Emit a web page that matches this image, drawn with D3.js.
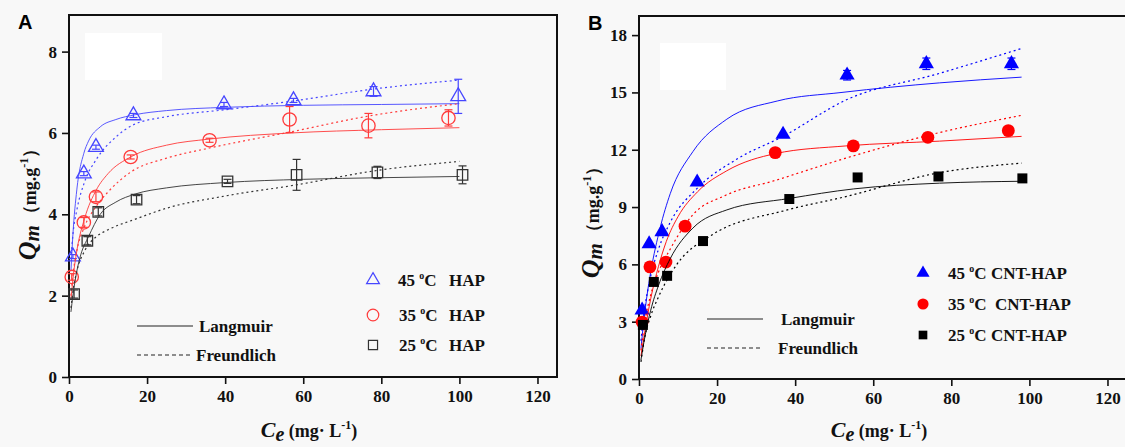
<!DOCTYPE html>
<html>
<head>
<meta charset="utf-8">
<script src="https://cdn.jsdelivr.net/npm/d3@7"></script>
<style>
  body { margin: 0; background: #f8f8f8; }
  svg { display: block; }
  .tick text { font-family: "Liberation Serif", serif; font-weight: bold; font-size: 17px; fill: #111; }
</style>
</head>
<body>
<svg id="chart" width="1125" height="447"></svg>
<script>
// ---- data ----
const xTicks = [0, 20, 40, 60, 80, 100, 120];
const yTicksA = [0, 2, 4, 6, 8];
const yTicksB = [0, 3, 6, 9, 12, 15, 18];

// panel A: HAP
const hap45 = [[1, 2.96], [3.8, 5.0], [6.9, 5.65], [16.5, 6.43], [39.7, 6.7], [57.5, 6.8], [78, 7.02], [99.7, 6.9]];
const hap45Err = [0.05, 0.05, 0.05, 0.05, 0.05, 0.05, 0.12, 0.42];
const hap35 = [[0.7, 2.46], [3.8, 3.8], [6.9, 4.43], [15.8, 5.41], [36, 5.82], [56.5, 6.33], [76.7, 6.18], [97.2, 6.37]];
const hap35Err = [0.08, 0.12, 0.12, 0.05, 0.05, 0.32, 0.3, 0.2];
const hap25 = [[1.3, 2.04], [4.7, 3.35], [7.5, 4.06], [17.3, 4.36], [40.6, 4.81], [58.3, 4.97], [79, 5.03], [100.8, 4.97]];
const hap25Err = [0.1, 0.1, 0.1, 0.1, 0.05, 0.38, 0.15, 0.22];

const langA45 = [[0.5, 2.6], [1, 3.5], [2, 4.6], [3.8, 5.5], [5, 5.8], [8, 6.15], [12, 6.33], [17, 6.45], [25, 6.55], [40, 6.63], [60, 6.68], [80, 6.7], [100, 6.72]];
const freuA45 = [[0.5, 2.9], [1, 3.5], [2, 4.1], [4, 4.8], [7, 5.35], [12, 5.9], [16.5, 6.2], [25, 6.4], [40, 6.57], [57, 6.78], [78, 7.08], [100, 7.3]];
const langA35 = [[0.5, 1.9], [1, 2.4], [2, 3.1], [4, 3.9], [7, 4.6], [10, 5.0], [16, 5.42], [25, 5.7], [36, 5.85], [57, 6.0], [80, 6.08], [100, 6.13]];
const freuA35 = [[0.5, 2.0], [1, 2.5], [2, 3.1], [4, 3.7], [7, 4.2], [10, 4.55], [16, 5.05], [25, 5.38], [36, 5.63], [57, 6.03], [77, 6.42], [100, 6.72]];
const langA25 = [[0.5, 1.6], [1, 2.0], [2, 2.6], [3, 3.0], [5, 3.45], [8, 4.0], [12, 4.3], [17, 4.5], [25, 4.65], [40, 4.78], [60, 4.86], [80, 4.9], [100, 4.93]];
const freuA25 = [[0.5, 1.7], [1, 2.1], [2, 2.6], [4, 3.1], [7, 3.45], [10, 3.62], [17, 3.88], [25, 4.15], [40, 4.45], [58, 4.72], [79, 5.08], [100, 5.3]];

// panel B: CNT-HAP
const cnt45 = [[0.8, 3.6], [2.6, 7.07], [5.9, 7.7], [14.9, 10.3], [36.9, 12.8], [53.3, 15.9], [73.6, 16.5], [95.4, 16.5]];
const cnt45Err = [0, 0, 0, 0, 0, 0.25, 0.3, 0.3];
const cnt35 = [[0.8, 2.98], [2.8, 5.87], [6.9, 6.12], [11.8, 8.0], [34.9, 11.85], [54.9, 12.2], [74, 12.65], [94.6, 13.0]];
const cnt25 = [[1, 2.83], [3.8, 5.08], [7.2, 5.4], [16.4, 7.22], [38.5, 9.42], [56, 10.55], [76.7, 10.6], [98.2, 10.5]];

const langB45 = [[0.5, 1.6], [1, 2.6], [2, 4.3], [3, 5.6], [5.4, 7.9], [8, 9.7], [13.8, 11.9], [22.5, 13.6], [35.4, 14.55], [52, 15.0], [77, 15.5], [98, 15.8]];
const freuB45 = [[0.5, 2.0], [1, 3.0], [2.6, 5.0], [5, 6.8], [8, 8.2], [15, 10.0], [25, 11.5], [36.9, 12.7], [53, 14.6], [77, 16.0], [98, 17.3]];
const langB35 = [[0.5, 1.2], [1.5, 2.5], [3, 4.2], [5, 5.9], [7, 7.2], [10, 8.5], [15, 9.8], [22.5, 10.9], [35, 11.8], [53, 12.2], [77, 12.45], [98, 12.7]];
const freuB35 = [[0.5, 1.5], [1.5, 3.0], [3, 4.4], [5, 5.6], [8, 6.8], [13.8, 8.6], [22, 9.6], [35, 10.4], [52, 11.5], [77, 12.9], [98, 13.8]];
const langB25 = [[0.5, 1.0], [1.5, 2.2], [3, 3.6], [5, 4.9], [8, 6.3], [13.8, 7.9], [22.5, 8.85], [38.5, 9.45], [55, 9.95], [77, 10.25], [98, 10.35]];
const freuB25 = [[0.5, 0.9], [1.5, 2.2], [3, 3.3], [5, 4.3], [9.7, 6.0], [18, 7.45], [38, 8.85], [52, 9.5], [77, 10.8], [98, 11.3]];

const svg = d3.select("#chart");
const serif = '"Liberation Serif", "Times New Roman", serif';

function drawPanel(p) {
  const x = d3.scaleLinear().domain([0, 125]).range([p.left, p.left + 488]);
  const y = d3.scaleLinear().domain([0, p.yMax]).range([p.bottom, p.top]);
  const g = svg.append("g");

  // white box in upper left
  g.append("rect").attr("x", p.box[0]).attr("y", p.box[1]).attr("width", p.box[2]).attr("height", p.box[3]).attr("fill", "#fff");

  // axes
  const xa = g.append("g").attr("transform", `translate(0,${p.bottom})`)
    .call(d3.axisBottom(x).tickValues(xTicks).tickSize(7).tickPadding(6));
  const ya = g.append("g").attr("transform", `translate(${p.left},0)`)
    .call(d3.axisLeft(y).tickValues(p.yTicks).tickSize(7).tickPadding(5));
  [xa, ya].forEach(a => {
    a.select(".domain").remove();
    a.selectAll(".tick line").attr("stroke", "#111").attr("stroke-width", 1.6);
  });

  // frame
  g.append("rect").attr("x", p.left).attr("y", p.top).attr("width", x(125) - p.left).attr("height", p.bottom - p.top)
    .attr("fill", "none").attr("stroke", "#111").attr("stroke-width", 2);

  const line = d3.line().x(d => x(d[0])).y(d => y(d[1])).curve(d3.curveMonotoneX);

  p.series.forEach(s => {
    g.append("path").attr("d", line(s.lang)).attr("fill", "none").attr("stroke", s.color).attr("stroke-width", 1).attr("opacity", 0.9);
    g.append("path").attr("d", line(s.freu)).attr("fill", "none").attr("stroke", s.color).attr("stroke-width", 1.2)
      .attr("stroke-dasharray", "2,3");
    // error bars
    if (s.err) {
      s.pts.forEach((d, i) => {
        const e = s.err[i];
        if (!e) return;
        g.append("line").attr("x1", x(d[0])).attr("x2", x(d[0])).attr("y1", y(d[1] - e)).attr("y2", y(d[1] + e))
          .attr("stroke", s.color).attr("stroke-width", 1.2);
        [d[1] - e, d[1] + e].forEach(v => g.append("line").attr("x1", x(d[0]) - 4).attr("x2", x(d[0]) + 4)
          .attr("y1", y(v)).attr("y2", y(v)).attr("stroke", s.color).attr("stroke-width", 1.2));
      });
    }
    g.selectAll(null).data(s.pts).enter().append("path")
      .attr("transform", d => `translate(${x(d[0])},${y(d[1])})`)
      .attr("d", d3.symbol().type(s.shape).size(s.size))
      .attr("fill", s.filled ? s.color : "none")
      .attr("stroke", s.color).attr("stroke-width", s.filled ? 0 : 1.3);
  });

  // panel letter
  g.append("text").attr("x", p.left - 51).attr("y", p.top + 14).text(p.letter)
    .attr("font-family", '"Liberation Sans", Arial, sans-serif').attr("font-weight", "bold").attr("font-size", 20);

  // y title
  const yt = g.append("text").attr("transform", `translate(${p.yTitleX},${p.yTitleY}) rotate(-90)`)
    .attr("text-anchor", "middle").attr("font-family", serif).attr("font-weight", "bold").attr("fill", "#111");
  yt.append("tspan").text("Q").attr("font-style", "italic").attr("font-size", 26);
  yt.append("tspan").text("m").attr("font-style", "italic").attr("font-size", 21).attr("dy", 3);
  yt.append("tspan").text("（mg.g").attr("font-size", 18).attr("dx", 2).attr("dy", -3);
  yt.append("tspan").text("-1").attr("font-size", 12).attr("dy", -8);
  yt.append("tspan").text("）").attr("font-size", 18).attr("dy", 8);

  // x title
  const xt = g.append("text").attr("x", (p.left + x(125)) / 2 - 4).attr("y", 437)
    .attr("text-anchor", "middle").attr("font-family", serif).attr("font-weight", "bold").attr("fill", "#111");
  xt.append("tspan").text("C").attr("font-style", "italic").attr("font-size", 22);
  xt.append("tspan").text("e").attr("font-style", "italic").attr("font-size", 20).attr("dy", 4);
  xt.append("tspan").text(" (mg· L").attr("font-size", 18).attr("dy", -4);
  xt.append("tspan").text("-1").attr("font-size", 12).attr("dy", -8);
  xt.append("tspan").text(")").attr("font-size", 18).attr("dy", 8);

  // line-style legend
  const lg = p.lineLegend;
  [["Langmuir", null, 0], ["Freundlich", "4,3", 29]].forEach(([t, dash, dy]) => {
    g.append("line").attr("x1", lg[0]).attr("x2", lg[0] + 56).attr("y1", lg[1] + dy).attr("y2", lg[1] + dy)
      .attr("stroke", "#222").attr("stroke-width", 1.2).attr("stroke-dasharray", dash);
    g.append("text").attr("x", lg[0] + lg[2] + (dash ? -3 : 0)).attr("y", lg[1] + dy + 6).text(t)
      .attr("font-family", serif).attr("font-weight", "bold").attr("font-size", 17).attr("fill", "#111");
  });

  // symbol legend
  const sl = p.symLegend;
  p.series.forEach((s, i) => {
    const yy = sl[1] + sl[3][i];
    g.append("path").attr("transform", `translate(${sl[0]},${yy})`)
      .attr("d", d3.symbol().type(s.shape).size(s.size * 0.75))
      .attr("fill", s.filled ? s.color : "none").attr("stroke", s.color).attr("stroke-width", s.filled ? 0 : 1.2);
    const t = g.append("text").attr("x", sl[0] + 25 + (p.letter === "A" && i > 0 ? 1 : 0)).attr("y", yy + 6)
      .attr("font-family", serif).attr("font-weight", "bold").attr("font-size", 17).attr("fill", "#111");
    t.append("tspan").text(s.temp + " ");
    t.append("tspan").text("o").attr("font-size", 10).attr("dy", -7);
    t.append("tspan").text("C").attr("dy", 7);
    g.append("text").attr("x", sl[0] + sl[2] + (p.letter === "B" && i === 1 ? 4 : 0)).attr("y", yy + 6).text(s.name)
      .attr("font-family", serif).attr("font-weight", "bold").attr("font-size", 17).attr("fill", "#111");
  });
}

drawPanel({
  letter: "A", left: 69, top: 15, bottom: 377, yMax: 8.9, yTicks: yTicksA,
  box: [85, 33, 77, 47], yTitleX: 36, yTitleY: 200,
  lineLegend: [137, 326, 62], symLegend: [373, 280, 76, [0, 35, 65]],
  series: [
    { pts: hap45, err: hap45Err, lang: langA45, freu: freuA45, color: "#4646ff", shape: d3.symbolTriangle, size: 95, filled: false, temp: "45", name: "HAP" },
    { pts: hap35, err: hap35Err, lang: langA35, freu: freuA35, color: "#ff3b3b", shape: d3.symbolCircle, size: 140, filled: false, temp: "35", name: "HAP" },
    { pts: hap25, err: hap25Err, lang: langA25, freu: freuA25, color: "#333", shape: d3.symbolSquare, size: 110, filled: false, temp: "25", name: "HAP" }
  ]
});

drawPanel({
  letter: "B", left: 639, top: 16, bottom: 379, yMax: 19, yTicks: yTicksB,
  box: [660, 43, 66, 47], yTitleX: 599, yTitleY: 218,
  lineLegend: [707, 319, 74], symLegend: [923, 273, 68, [0, 31, 62]],
  series: [
    { pts: cnt45, err: cnt45Err, lang: langB45, freu: freuB45, color: "#0000ff", shape: d3.symbolTriangle, size: 100, filled: true, temp: "45", name: "CNT-HAP" },
    { pts: cnt35, lang: langB35, freu: freuB35, color: "#ff0000", shape: d3.symbolCircle, size: 130, filled: true, temp: "35", name: "CNT-HAP" },
    { pts: cnt25, lang: langB25, freu: freuB25, color: "#000", shape: d3.symbolSquare, size: 100, filled: true, temp: "25", name: "CNT-HAP" }
  ]
});
</script>
</body>
</html>
